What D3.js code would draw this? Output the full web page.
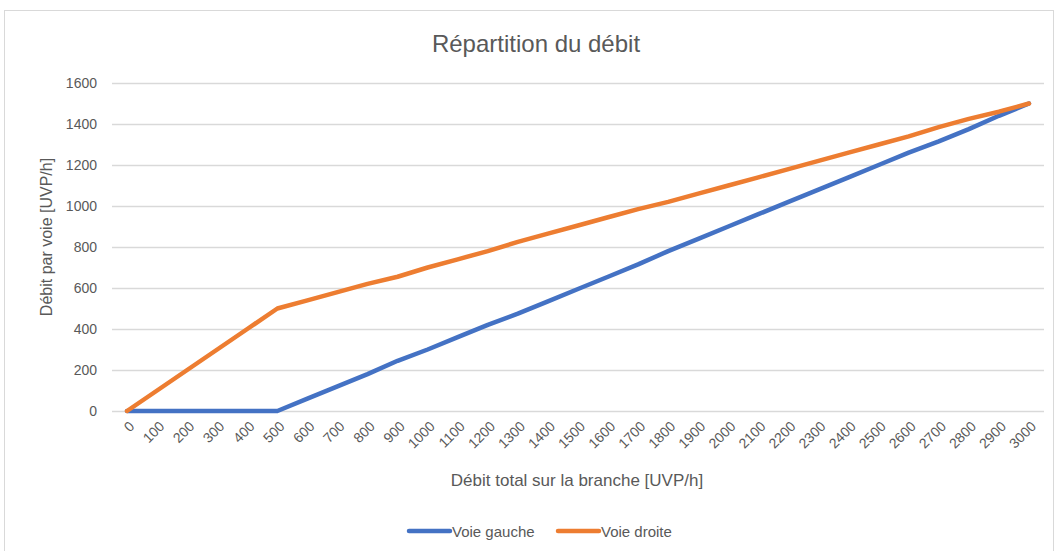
<!DOCTYPE html>
<html>
<head>
<meta charset="utf-8">
<script src="https://cdn.jsdelivr.net/npm/d3@7"></script>
<style>
  body { margin: 0; background: #fff; }
  svg text { font-family: "Liberation Sans Narrow", "Arial Narrow", "Liberation Sans", sans-serif; fill: #595959; }
</style>
</head>
<body>
<svg id="chart" width="1058" height="551"></svg>
<script>
// total flow on the branch (categories)
const totals = d3.range(0, 3001, 100)
// right lane flow
const voieDroite = [0, 100, 200, 300, 400, 500, 540, 580, 620, 655, 700, 740, 780, 825, 865, 905,
  945, 985, 1020, 1060, 1100, 1140, 1180, 1220, 1260, 1300, 1340, 1385, 1425, 1460, 1500]
// left lane flow
const voieGauche = [0, 0, 0, 0, 0, 0, 60, 120, 180, 245, 300, 360, 420, 475, 535, 595,
  655, 715, 780, 840, 900, 960, 1020, 1080, 1140, 1200, 1260, 1315, 1375, 1440, 1500]
const yTicks = [0, 200, 400, 600, 800, 1000, 1200, 1400, 1600]

const series = [
  { name: 'Voie gauche', values: voieGauche, color: '#4472C4' },
  { name: 'Voie droite', values: voieDroite, color: '#ED7D31' }
]

const svg = d3.select('#chart')
const plot = { left: 112, right: 1044, top: 83, bottom: 411 }

// chart area border
svg.append('rect')
  .attr('x', 4.5).attr('y', 10.5)
  .attr('width', 1049).attr('height', 560)
  .attr('fill', 'none').attr('stroke', '#d9d9d9')

const x = d3.scaleBand()
  .domain(totals)
  .range([plot.left, plot.right])
const y = d3.scaleLinear()
  .domain([0, 1600])
  .range([plot.bottom, plot.top])

// gridlines + y labels
const yAxis = svg.append('g')
  .attr('transform', 'translate(' + plot.left + ',0)')
  .call(d3.axisLeft(y).tickValues(yTicks).tickFormat(d3.format('d'))
    .tickSize(-(plot.right - plot.left)).tickPadding(15))
yAxis.select('.domain').remove()
yAxis.selectAll('line').attr('stroke', '#d9d9d9').attr('stroke-width', 1.3)
yAxis.selectAll('text').attr('font-size', 14)

// x axis
const xAxis = svg.append('g')
  .attr('transform', 'translate(0,' + plot.bottom + ')')
  .call(d3.axisBottom(x).tickSize(0).tickSizeOuter(0))
xAxis.select('.domain').remove()
xAxis.selectAll('text')
  .attr('font-size', 14)
  .attr('text-anchor', 'end')
  .attr('dy', 0)
  .attr('transform', 'translate(6,14) rotate(-45)')

// lines
const line = d3.line()
  .x((d, i) => x(totals[i]) + x.bandwidth() / 2)
  .y(d => y(d))
series.forEach(s => {
  svg.append('path')
    .datum(s.values)
    .attr('d', line)
    .attr('fill', 'none')
    .attr('stroke', s.color)
    .attr('stroke-width', 4.5)
    .attr('stroke-linecap', 'round')
    .attr('stroke-linejoin', 'round')
})

// titles
svg.append('text')
  .attr('x', 536).attr('y', 52)
  .attr('text-anchor', 'middle')
  .attr('font-size', 24)
  .text('Répartition du débit')
svg.append('text')
  .attr('transform', 'translate(52,237) rotate(-90)')
  .attr('text-anchor', 'middle')
  .attr('font-size', 16)
  .text('Débit par voie [UVP/h]')
svg.append('text')
  .attr('x', 577).attr('y', 486)
  .attr('text-anchor', 'middle')
  .attr('font-size', 17)
  .text('Débit total sur la branche [UVP/h]')

// legend
const legend = svg.append('g')
const legendX = [409, 558]
series.forEach((s, i) => {
  legend.append('line')
    .attr('x1', legendX[i]).attr('x2', legendX[i] + 41)
    .attr('y1', 531).attr('y2', 531)
    .attr('stroke', s.color).attr('stroke-width', 4.5)
    .attr('stroke-linecap', 'round')
  legend.append('text')
    .attr('x', legendX[i] + 43).attr('y', 537)
    .attr('font-size', 15)
    .text(s.name)
})
</script>
</body>
</html>
